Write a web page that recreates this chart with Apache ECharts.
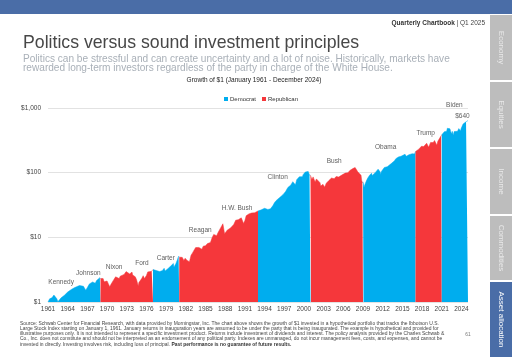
<!DOCTYPE html>
<html><head><meta charset="utf-8">
<script src="https://cdn.jsdelivr.net/npm/echarts@6/dist/echarts.min.js"></script>
<style>html,body{margin:0;padding:0;background:#fff}#c{width:512px;height:361px}</style>
</head><body><div id="c"></div>
<script>
// Growth of $1, decimal-year dates and values
const dates = [
1961.0,1961.1,1961.25,1961.4,1961.6,1961.9,1962.0,1962.2,1962.35,1962.5,1962.65,1962.8,1963.0,1963.3,1963.5,1963.8,
1964.0,1964.3,1964.55,1964.8,1965.0,1965.35,1965.5,1965.8,1966.0,1966.1,1966.4,1966.75,1967.0,1967.3,1967.55,1967.8,1967.9,
1968.0,1968.2,1968.4,1968.6,1968.9,1969.0,1969.2,1969.4,1969.55,1969.75,1970.0,1970.2,1970.4,1970.6,1970.8,
1971.0,1971.3,1971.6,1971.85,1972.0,1972.3,1972.6,1972.9,1973.0,1973.2,1973.45,1973.8,1973.9,1974.0,1974.3,1974.5,1974.75,1974.85,
1975.0,1975.3,1975.5,1975.7,1976.0,1976.2,1976.5,1976.8,1977.0,1977.2,1977.5,1977.8,1978.0,1978.15,1978.4,1978.7,1978.85,
1979.0,1979.3,1979.7,1979.85,1980.0,1980.1,1980.2,1980.5,1980.7,1980.9,1981.0,1981.2,1981.45,1981.7,1981.9,
1982.0,1982.2,1982.55,1982.8,1982.9,1983.0,1983.3,1983.5,1983.8,1984.0,1984.45,1984.65,1984.9,1985.0,1985.3,1985.55,1985.75,
1986.0,1986.25,1986.5,1986.7,1986.9,1987.0,1987.3,1987.45,1987.65,1987.75,1987.85,1987.92,1988.0,1988.3,1988.5,1988.8,
1989.0,1989.3,1989.6,1989.8,1990.0,1990.1,1990.45,1990.55,1990.8,1991.0,1991.2,1991.4,1991.6,1991.85,1992.0,1992.3,1992.5,1992.75,
1993.0,1993.2,1993.5,1993.8,1994.0,1994.25,1994.5,1994.75,1994.9,1995.0,1995.3,1995.5,1995.75,1996.0,1996.3,1996.5,1996.6,1996.8,
1997.0,1997.2,1997.3,1997.55,1997.65,1997.85,1998.0,1998.3,1998.55,1998.7,1998.9,1999.0,1999.3,1999.5,1999.75,1999.9,
2000.0,2000.1,2000.2,2000.4,2000.65,2000.75,2000.85,2001.0,2001.08,2001.2,2001.4,2001.5,2001.7,2001.9,
2002.0,2002.2,2002.45,2002.55,2002.75,2002.9,2003.0,2003.15,2003.4,2003.5,2003.8,2004.0,2004.2,2004.5,2004.6,2004.9,
2005.0,2005.3,2005.5,2005.7,2005.8,2006.0,2006.3,2006.45,2006.7,2006.9,2007.0,2007.15,2007.45,2007.6,2007.8,2007.9,
2008.0,2008.2,2008.4,2008.5,2008.7,2008.8,2008.9,2009.0,2009.08,2009.15,2009.25,2009.5,2009.7,2009.8,
2010.0,2010.3,2010.4,2010.5,2010.6,2010.85,2011.0,2011.3,2011.5,2011.6,2011.7,2011.8,2012.0,2012.25,2012.4,2012.7,2012.85,
2013.0,2013.3,2013.45,2013.6,2013.8,2014.0,2014.1,2014.4,2014.6,2014.8,2015.0,2015.1,2015.4,2015.6,2015.7,2015.85,
2016.0,2016.1,2016.2,2016.5,2016.7,2016.85,2017.0,2017.3,2017.5,2017.75,2017.9,2018.0,2018.08,2018.25,2018.5,2018.7,2018.8,2018.9,
2019.0,2019.3,2019.4,2019.6,2019.7,2019.9,2020.0,2020.08,2020.15,2020.25,2020.4,2020.6,2020.65,2020.8,2020.9,
2021.0,2021.1,2021.2,2021.4,2021.5,2021.65,2021.75,2021.85,2022.0,2022.1,2022.25,2022.35,2022.5,2022.6,2022.7,2022.75,2022.9,
2023.0,2023.1,2023.2,2023.4,2023.5,2023.6,2023.75,2023.85,2023.95,2024.0,2024.25,2024.35,2024.5,2024.7,2024.85,2024.95,2025.0
];
const values = [
1.00,1.06,1.12,1.13,1.16,1.28,1.269,1.25,1.12,1.01,1.07,1.02,1.159,1.24,1.27,1.33,
1.423,1.50,1.56,1.62,1.658,1.72,1.62,1.80,1.865,1.90,1.75,1.52,1.676,1.90,2.00,2.04,1.97,
2.079,1.95,2.15,2.16,2.38,2.31,2.20,2.30,2.05,2.18,2.113,2.05,1.72,1.88,1.95,
2.198,2.45,2.37,2.30,2.512,2.62,2.67,2.95,2.989,2.80,2.72,2.90,2.62,2.550,2.45,2.20,1.76,2.00,
1.874,2.32,2.55,2.30,2.571,2.92,3.00,2.98,3.183,3.02,3.06,2.90,2.954,2.78,3.05,3.32,3.02,
3.149,3.30,3.60,3.38,3.728,3.95,3.45,3.95,4.45,5.10,4.936,5.00,4.90,4.40,4.75,
4.694,4.40,4.20,5.30,5.55,5.699,6.45,6.95,6.85,6.981,6.55,7.30,7.20,7.421,8.00,8.55,8.30,
9.81,11.1,11.2,10.6,11.8,11.625,14.0,14.4,16.2,15.8,12.3,11.4,12.23,12.9,13.6,13.9,
14.284,15.8,18.4,17.7,18.784,17.5,20.0,19.9,16.4,18.183,21.6,22.5,23.0,22.0,23.747,23.5,24.0,24.3,
25.575,26.3,26.6,27.6,28.133,26.8,27.0,28.5,27.6,28.499,31.3,34.2,36.9,39.214,41.2,42.7,41.0,45.7,
48.233,51.0,48.5,59.0,55.6,59.2,64.343,72.5,74.6,64.8,78.0,82.745,86.4,90.5,86.6,94.0,
100.12,93.0,102.0,98.2,104.6,99.1,91.3,91.01,94.2,78.5,86.0,85.0,71.5,80.0,
80.18,80.5,70.0,62.0,58.2,66.0,62.46,59.7,68.5,72.0,75.6,80.39,82.6,83.0,80.7,87.0,
89.15,85.7,88.7,91.0,88.8,93.52,98.5,95.5,99.5,106.8,108.3,108.0,115.5,111.8,120.0,114.4,
114.25,103.0,107.5,97.5,91.0,75.7,70.2,71.98,65.9,58.9,64.1,74.0,81.8,80.3,
91.05,98.0,90.3,85.6,87.4,100.0,104.8,113.4,111.5,103.0,93.9,104.2,107.0,120.3,113.1,123.6,121.9,
124.12,138.0,143.0,143.4,153.0,164.33,158.8,175.0,175.0,179.5,186.85,181.2,192.7,179.0,174.6,190.5,
189.46,180.0,180.0,196.5,199.0,195.2,212.2,222.6,231.0,241.0,256.0,258.5,273.3,254.0,264.5,285.0,265.5,270.0,
247.1,294.0,275.5,296.0,291.5,314.0,325.0,330.0,303.6,266.0,305.0,331.0,354.4,334.3,371.0,
384.8,381.0,407.5,431.0,442.0,459.0,437.5,486.0,495.2,469.6,476.4,435.0,399.0,436.0,418.2,379.6,433.0,
405.6,432.0,421.0,436.0,465.0,480.0,450.0,441.0,481.0,512.2,565.8,542.6,584.0,612.0,651.0,655.0,640.3
];
const termStarts = [1961,1969,1977,1981,1993,2001,2009,2017,2021,2025];
const termParties = ['Democrat','Republican','Democrat','Republican','Democrat','Republican','Democrat','Republican','Democrat'];
const yTicks = [1,10,100,1000];
const yTickLabels = ['$1','$10','$100','$1,000'];
const presidents = ['Kennedy','Johnson','Nixon','Ford','Carter','Reagan','H.W. Bush','Clinton','Bush','Obama','Trump','Biden','$640'];
const presidentLabelYears = [1963.0,1967.15,1971.07,1975.3,1978.95,1984.2,1989.8,1996.0,2004.6,2012.45,2018.55,2022.93,2024.15];
const presidentLabelValues = [1.99,2.79,3.49,3.92,4.76,13.1,28.4,84.6,153,247,407,1105,746];
const footerLines = [
'Source: Schwab Center for Financial Research, with data provided by Morningstar, Inc. The chart above shows the growth of $1 invested in a hypothetical portfolio that tracks the Ibbotson U.S.',
'Large Stock Index starting on January 1, 1961. January returns in inauguration years are assumed to be under the party that is being inaugurated. The example is hypothetical and provided for',
'illustrative purposes only. It is not intended to represent a specific investment product. Returns include investment of dividends and interest. The policy analysis provided by the Charles Schwab &',
'Co., Inc. does not constitute and should not be interpreted as an endorsement of any political party. Indexes are unmanaged, do not incur management fees, costs, and expenses, and cannot be'
];
const footerLast = 'invested in directly. Investing involves risk, including loss of principal. ';
const footerBold = 'Past performance is no guarantee of future results.';
const tabs = ['Economy','Equities','Income','Commodities','Asset allocation'];

const BASE = 1961;
const colors = {Democrat:'#00adee', Republican:'#f5373b'};
const FONT = '"Liberation Sans", Arial, sans-serif';

const series = [];
for (let i = 0; i < termParties.length; i++) {
  const s = termStarts[i], e = termStarts[i+1];
  const data = [];
  dates.forEach((d, j) => { if (d >= s - 1e-9 && d <= e + 1e-9) data.push([d - BASE, values[j]]); });
  const c = colors[termParties[i]];
  series.push({
    type:'line', name: termParties[i], data, symbol:'none', showSymbol:false, silent:true,
    lineStyle:{width:0.5, color:c}, itemStyle:{color:c},
    areaStyle:{color:c, opacity:1, origin:'start'}, z:2
  });
}
series.push({
  type:'scatter', name:'labels', silent:true, clip:false, symbolSize:1,
  itemStyle:{color:'rgba(0,0,0,0)'},
  data: presidents.map((n,i)=>({name:n, value:[presidentLabelYears[i]-BASE, presidentLabelValues[i]]})),
  label:{show:true, position:'inside', formatter:'{b}', color:'#333', fontSize:6.5, fontFamily:FONT},
  z:5
});

const graphic = [
  {type:'rect', shape:{x:0,y:0,width:512,height:14}, style:{fill:'#4a6da7'}},
  {type:'text', x:485, y:23, style:{text:'{b|Quarterly Chartbook} | Q1 2025', align:'right', verticalAlign:'middle', fontSize:6.5, fontFamily:FONT, fill:'#444',
    rich:{b:{fontWeight:'bold', fontSize:6.5, fontFamily:FONT, fill:'#333'}}}},
  {type:'text', x:23, y:43, style:{text:'Politics versus sound investment principles', verticalAlign:'middle', fontSize:17.7, fontFamily:FONT, fill:'#474747'}},
  {type:'text', x:23, y:59, style:{text:'Politics can be stressful and can create uncertainty and a lot of noise. Historically, markets have', verticalAlign:'middle', fontSize:10.1, fontFamily:FONT, fill:'#a9b0b8'}},
  {type:'text', x:23, y:68.5, style:{text:'rewarded long-term investors regardless of the party in charge of the White House.', verticalAlign:'middle', fontSize:10.1, fontFamily:FONT, fill:'#a9b0b8'}},
  {type:'text', x:254, y:80, style:{text:'Growth of $1 (January 1961 - December 2024)', align:'center', verticalAlign:'middle', fontSize:6.5, fontFamily:FONT, fill:'#222'}},
  {type:'text', x:468, y:335, style:{text:'61', align:'center', verticalAlign:'middle', fontSize:4.8, fontFamily:FONT, fill:'#777'}}
];
footerLines.forEach((t,i)=>{
  graphic.push({type:'text', x:20, y:323.3 + i*5.25, style:{text:t, verticalAlign:'middle', fontSize:4.95, fontFamily:FONT, fill:'#444'}});
});
graphic.push({type:'text', x:20, y:323.3 + 4*5.25, style:{text:footerLast + '{b|' + footerBold + '}', verticalAlign:'middle', fontSize:4.95, fontFamily:FONT, fill:'#444',
  rich:{b:{fontWeight:'bold', fontSize:4.95, fontFamily:FONT, fill:'#333'}}}});
const tabTops = [15, 82, 149, 216, 282];
const tabBottoms = [80, 147, 214, 280, 357];
tabs.forEach((t,i)=>{
  const active = i === tabs.length - 1;
  graphic.push({type:'rect', shape:{x:490, y:tabTops[i], width:22, height:tabBottoms[i]-tabTops[i]}, style:{fill: active ? '#4a6da7' : '#bdbdbd'}});
  graphic.push({type:'text', x:501, y:(tabTops[i]+tabBottoms[i])/2, rotation:-Math.PI/2,
    style:{text:t, align:'center', verticalAlign:'middle', fontSize:8, fontFamily:FONT, fill: active ? '#ffffff' : '#e9e9e9'}});
});

const chart = echarts.init(document.getElementById('c'), null, {renderer:'canvas'});
chart.setOption({
  animation:false,
  backgroundColor:'#ffffff',
  textStyle:{fontFamily:FONT},
  legend:{
    data:[{name:'Democrat', icon:'rect'},{name:'Republican', icon:'rect'}],
    left:219, top:91, itemWidth:4, itemHeight:4, itemGap:6,
    textStyle:{fontSize:6, color:'#333', fontFamily:FONT, padding:[0,0,0,-3]}
  },
  grid:{left:48, right:44, top:108, bottom:59, containLabel:false},
  xAxis:{
    type:'value', min:0, max:64, interval:3,
    axisLine:{show:false}, axisTick:{show:false}, splitLine:{show:false},
    axisLabel:{formatter:v=>String(v+BASE), showMaxLabel:false, fontSize:6.5, color:'#444', margin:4, fontFamily:FONT}
  },
  yAxis:{
    type:'log', logBase:10, min:1, max:1000,
    axisLine:{show:false}, axisTick:{show:false},
    splitLine:{show:true, lineStyle:{color:'#e2e2e2', width:1}},
    axisLabel:{formatter:v=>{const k=yTicks.indexOf(Math.round(v)); return k>=0?yTickLabels[k]:'';}, fontSize:6.5, color:'#444', margin:7, fontFamily:FONT}
  },
  series,
  graphic
});
</script></body></html>
